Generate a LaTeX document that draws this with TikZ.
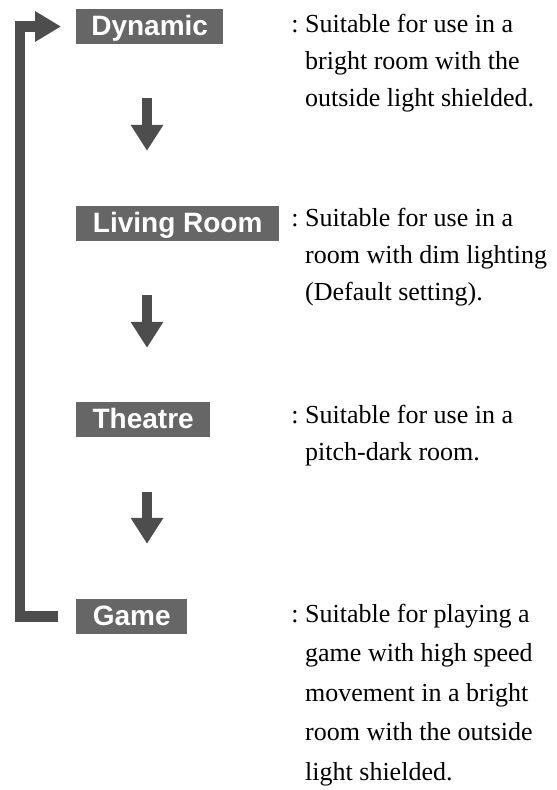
\documentclass[tikz,border=0pt]{standalone}
\usepackage{fontspec}
\setmainfont{Liberation Serif}
\newfontfamily\boxfont{Liberation Sans}
\usetikzlibrary{arrows.meta,calc}
\definecolor{boxgray}{HTML}{666666}
\definecolor{arrowgray}{HTML}{4D4D4D}
\newcommand{\desclines}[2]{\fontsize{26}{#1}\selectfont\begin{tabular}[t]{@{}l@{}}#2\end{tabular}}
\begin{document}
\begin{tikzpicture}[x=1pt,y=-1pt,
  modebox/.style={fill=boxgray,text=white,anchor=west,inner xsep=0pt,inner ysep=0pt,
    text height=26pt,text depth=9pt,font=\boxfont\bfseries\fontsize{28}{28}\selectfont},
  desc/.style={anchor=base west,inner sep=0pt},
  downarrow/.style={draw=arrowgray,line width=10pt,-{Triangle[length=26pt,width=31pt]}},
  looparrow/.style={draw=arrowgray,line width=10.5pt,line join=miter,-{Triangle[length=26pt,width=29pt]}}]
\useasboundingbox (0,0) rectangle (557,790);
\node[modebox,minimum width=147pt] (dyn) at (76,26.5) {Dynamic};
\node[modebox,minimum width=203pt] (liv) at (76,223.5) {Living Room};
\node[modebox,minimum width=134pt] (the) at (76,419.5) {Theatre};
\node[modebox,minimum width=111pt] (gam) at (76,616.5) {Game};
\node[desc] (ddyn) at (305,32) {\desclines{37}{\llap{:\ }Suitable for use in a\\bright room with the\\outside light shielded.}};
\node[desc] (dliv) at (305,226) {\desclines{37}{\llap{:\ }Suitable for use in a\\room with dim lighting\\(Default setting).}};
\node[desc] (dthe) at (305,423) {\desclines{37}{\llap{:\ }Suitable for use in a\\pitch-dark room.}};
\node[desc] (dgam) at (305,622) {\desclines{39.5}{\llap{:\ }Suitable for playing a\\game with high speed\\movement in a bright\\room with the outside\\light shielded.}};
\coordinate (ax) at (147,0);
\coordinate (lx) at (20,0);
\draw[downarrow] ($(ax |- dyn.south)+(0,54)$) -- ($(ax |- liv.north)+(0,-55)$);
\draw[downarrow] ($(ax |- liv.south)+(0,54)$) -- ($(ax |- the.north)+(0,-54)$);
\draw[downarrow] ($(ax |- the.south)+(0,55)$) -- ($(ax |- gam.north)+(0,-55)$);
\coordinate (ls) at ($(gam.west)+(-18,0)$);
\coordinate (le) at ($(dyn.west)+(-15,0)$);
\draw[looparrow] (ls) -- (lx |- ls) -- (lx |- le) -- (le);
\end{tikzpicture}
\end{document}
